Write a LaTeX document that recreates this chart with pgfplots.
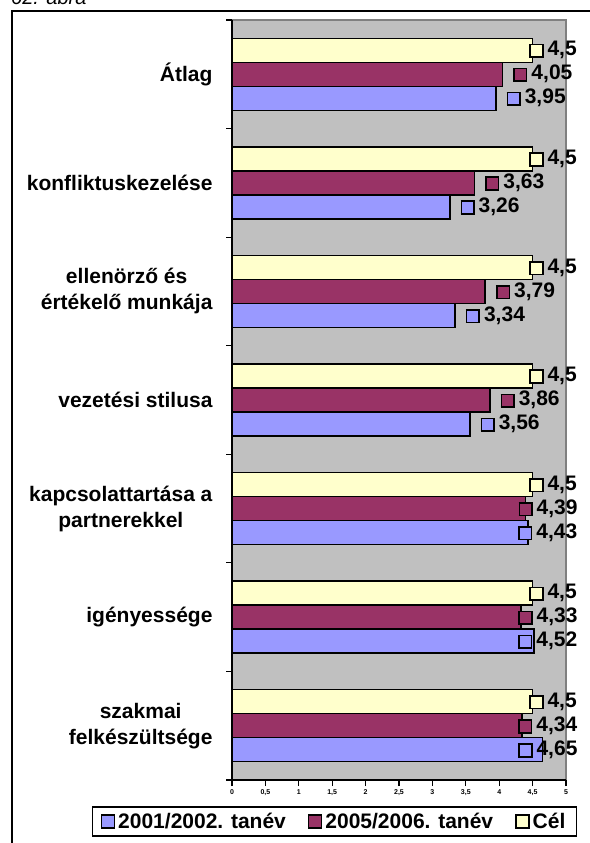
\documentclass[border=0pt]{standalone}
\usepackage{fontspec}
\setmainfont{Liberation Sans}
\usepackage{pgfplots}
\pgfplotsset{compat=1.18}
\definecolor{cblue}{HTML}{9999FF}
\definecolor{cred}{HTML}{993366}
\definecolor{cyellow}{HTML}{FFFFCC}
\definecolor{plotgray}{HTML}{C0C0C0}
\definecolor{framegray}{HTML}{808080}
\setlength{\fboxrule}{1.6pt}
\setlength{\fboxsep}{0pt}
\newcommand{\sq}[1]{\raisebox{-0.5pt}{\fcolorbox{black}{#1}{\rule{0pt}{11pt}\rule{11pt}{0pt}}}}
\begin{document}
\begin{tikzpicture}
\useasboundingbox (0pt,0pt) rectangle (589pt,843pt);
\draw[line width=2pt] (12pt,-5pt) -- (12pt,832pt) -- (600pt,832pt);
\node[anchor=base west, inner sep=0pt, font=\fontsize{20}{24}\selectfont\itshape] at (11pt,838pt) {62. ábra};
\begin{axis}[
  at={(232pt,63pt)}, anchor=south west,
  width=334pt, height=760pt, scale only axis,
  xmin=0, xmax=5, ymin=-0.5, ymax=6.5,
  clip=false,
  axis x line*=bottom, axis y line*=left,
  axis line style={black, line width=1.5pt},
  axis background/.style={fill=plotgray, draw=framegray, line width=1.5pt},
  xtick={0,0.5,...,5},
  ytick={-0.5,0.5,...,6.5},
  yticklabels={},
  tick align=outside,
  major tick length=6pt,
  tick style={black, line width=1.2pt},
  /pgf/number format/use comma,
  /pgf/number format/assume math mode=true,
  xticklabel style={font=\fontsize{7}{8}\selectfont\bfseries},
  point meta=x,
  legend style={at={(0.307,-0.0546)}, anchor=center, legend columns=3,
    draw=black, line width=1.5pt, font=\fontsize{21}{24}\selectfont\bfseries,
    inner xsep=8pt, inner ysep=4pt,
    nodes={inner xsep=3pt},
    /tikz/every even column/.append style={column sep=19pt}},
  legend cell align=left,
  every axis plot/.append style={
    xbar, bar width=24pt, draw=black, line width=1.5pt,
    visualization depends on={\thisrow{off} \as \off},
    every node near coord/.append style={anchor=west, inner sep=0pt, xshift=\off pt,
      font=\fontsize{21}{24}\selectfont\bfseries, text=black, fill=none, draw=none},
    legend image code/.code={\draw[##1, line width=1.5pt] (0pt,-6.5pt) rectangle (13pt,6.5pt);}
  },
]
\addplot[fill=cblue, bar shift=-24pt,
  every node near coord/.append style={yshift=-24pt},
  nodes near coords={\sq{cblue}\hspace{4pt}\pgfmathprintnumber{\pgfplotspointmeta}}]
  table[x=v, y=y] {
y v off
0 4.65 -25
1 4.52 -16.5
2 4.43 -10.5
3 3.56 10
4 3.34 10
5 3.26 10
6 3.95 10
};
\addlegendentry{2001/2002. tanév}
\addplot[fill=cred, bar shift=0pt,
  every node near coord/.append style={yshift=0pt},
  nodes near coords={\sq{cred}\hspace{4pt}\pgfmathprintnumber{\pgfplotspointmeta}}]
  table[x=v, y=y] {
y v off
0 4.34 -4.5
1 4.33 -3.5
2 4.39 -7.5
3 3.86 10
4 3.79 10
5 3.63 10
6 4.05 10
};
\addlegendentry{2005/2006. tanév}
\addplot[fill=cyellow, bar shift=24pt,
  every node near coord/.append style={yshift=24pt},
  nodes near coords={\sq{cyellow}\hspace{4pt}\pgfmathprintnumber{\pgfplotspointmeta}}]
  table[x=v, y=y] {
y v off
0 4.5 -4
1 4.5 -4
2 4.5 -4
3 4.5 -4
4 4.5 -4
5 4.5 -4
6 4.5 -4
};
\addlegendentry{Cél}
\begin{scope}[every node/.style={anchor=east, align=center, xshift=-16pt,
    font=\fontsize{21}{26}\selectfont\bfseries}]
\node at (axis cs:0,6) {Átlag};
\node at (axis cs:0,5) {konfliktuskezelése};
\node at (axis cs:0,4) {ellenörző és\\értékelő munkája};
\node at (axis cs:0,3) {vezetési stilusa};
\node at (axis cs:0,2) {kapcsolattartása a\\partnerekkel};
\node at (axis cs:0,1) {igényessége};
\node at (axis cs:0,0) {szakmai\\felkészültsége};
\end{scope}
\end{axis}
\end{tikzpicture}
\end{document}
